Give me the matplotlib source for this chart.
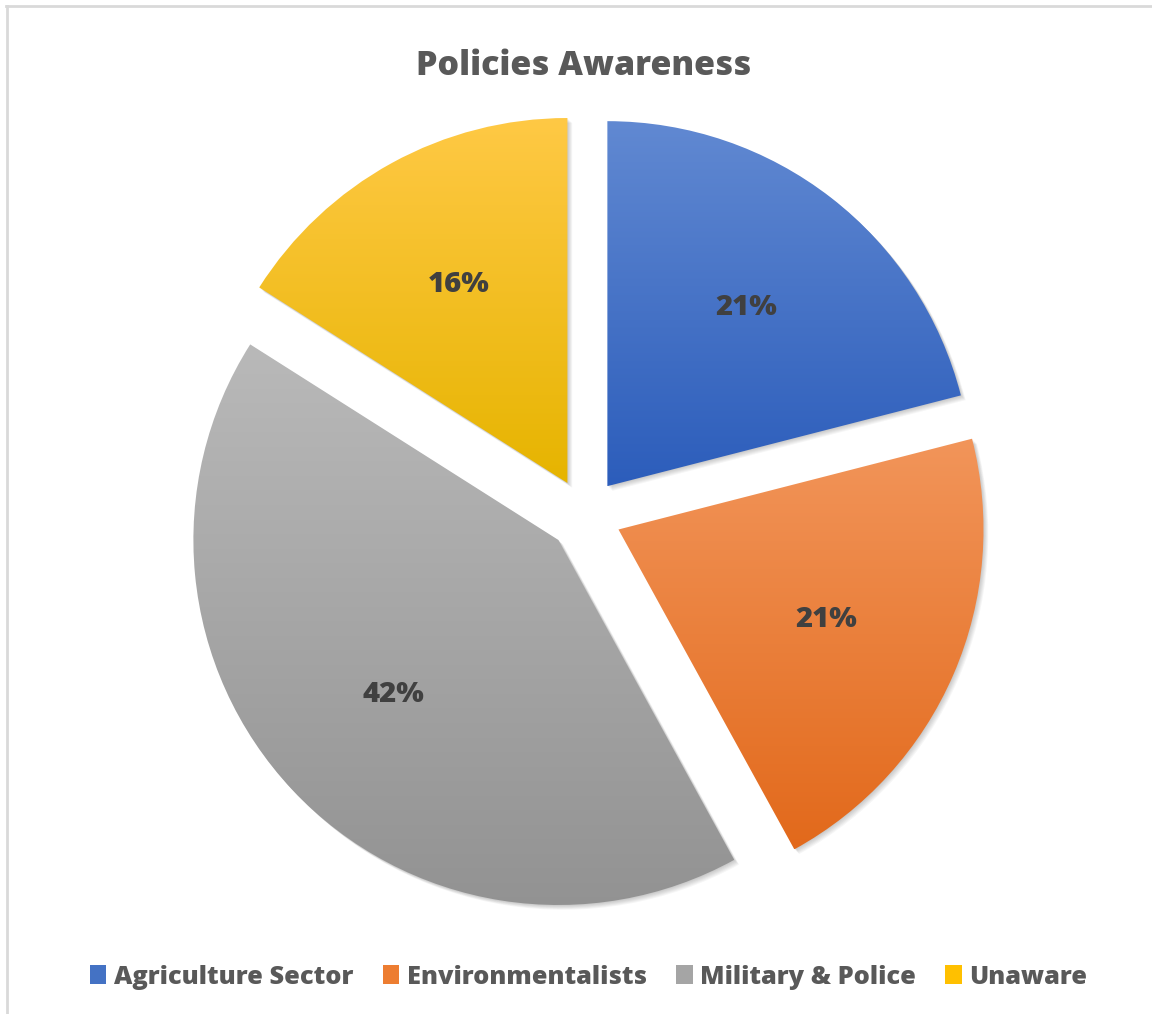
import numpy as np
import matplotlib
matplotlib.use("Agg")
import matplotlib.pyplot as plt
import matplotlib.patches as mpatches
import matplotlib.lines as mlines
from matplotlib.colors import LinearSegmentedColormap

plt.rcParams['font.family'] = ['Open Sans', 'DejaVu Sans']

labels = ['Agriculture Sector', 'Environmentalists', 'Military & Police', 'Unaware']
values = [21, 21, 42, 16]

# light (top) / dark (bottom) ends of each slice gradient
top_colors = ['#6189d2', '#f2955a', '#b9b9b9', '#ffc945']
bottom_colors = ['#2c5dbb', '#e2691b', '#929292', '#e6b400']
mid_colors = ['#4472c4', '#ed7d31', '#a5a5a5', '#ffc000']

W, H, DPI = 1152, 1014, 100
cx, cy, R = 585, 515, 365      # pie centre / radius in pixels

fig = plt.figure(figsize=(W / DPI, H / DPI), dpi=DPI)
ax = fig.add_axes([0, 0, 1, 1])
ax.axis('off')

wedges, texts, autotexts = ax.pie(
    values, startangle=90, counterclock=False, explode=[0.1] * 4,
    autopct='%1.0f%%', pctdistance=0.62, radius=1,
    wedgeprops=dict(linewidth=0),
    textprops=dict(fontsize=21, fontweight=800, color='#404040'))

for w, t0, t1 in zip(wedges, top_colors, bottom_colors):
    # soft drop shadow
    for k in range(1, 7):
        sh = mpatches.Wedge((w.center[0] + k * 0.8 / R, w.center[1] - k * 0.8 / R),
                            w.r, w.theta1, w.theta2,
                            facecolor='black', alpha=0.035, linewidth=0, zorder=0.5)
        ax.add_patch(sh)
    # vertical gradient clipped to the slice
    w.set_facecolor('none')
    verts = w.get_path().vertices
    x0, x1 = verts[:, 0].min(), verts[:, 0].max()
    y0, y1 = verts[:, 1].min(), verts[:, 1].max()
    cmap = LinearSegmentedColormap.from_list('g', [t1, t0])
    grad = np.linspace(0, 1, 256).reshape(-1, 1)
    im = ax.imshow(grad, cmap=cmap, origin='lower', extent=[x0, x1, y0, y1],
                   aspect='auto', zorder=1, interpolation='bicubic')
    im.set_clip_path(w)

for t in autotexts:
    t.set_zorder(3)

ax.set_xlim(-cx / R, (W - cx) / R)
ax.set_ylim((cy - H) / R, cy / R)
ax.set_aspect('auto')

fig.text(0.507, 1 - 66 / H, 'Policies Awareness', ha='center', va='center',
         fontsize=24.5, fontweight=800, color='#595959')

handles = [mpatches.Patch(facecolor=c, edgecolor='none', label=l)
           for c, l in zip(mid_colors, labels)]
leg = fig.legend(handles=handles, loc='center', bbox_to_anchor=(0.511, 1 - 977 / H),
                 ncol=4, frameon=False, handlelength=0.65, handleheight=0.75,
                 handletextpad=0.3, columnspacing=1.15,
                 prop=dict(size=18.3, weight=800))
for t in leg.get_texts():
    t.set_color('#595959')

# chart frame
fig.add_artist(mlines.Line2D([7 / W, 7 / W], [0, 1 - 6 / H], color='#d9d9d9', lw=2))
fig.add_artist(mlines.Line2D([6 / W, 1], [1 - 6 / H, 1 - 6 / H], color='#d9d9d9', lw=2))

fig.savefig('out.png', dpi=DPI, facecolor='white')
